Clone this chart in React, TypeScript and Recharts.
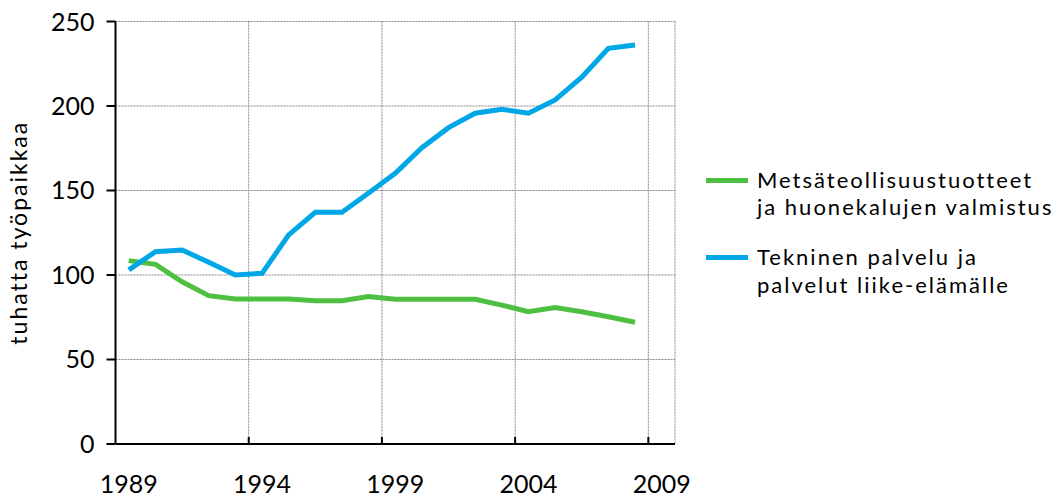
import {
  LineChart,
  Line,
  XAxis,
  YAxis,
  CartesianGrid,
  Legend,
} from "recharts";

const years = [
  1989, 1990, 1991, 1992, 1993, 1994, 1995, 1996, 1997, 1998, 1999, 2000,
  2001, 2002, 2003, 2004, 2005, 2006, 2007, 2008,
];

// thousand jobs
const metsa = [
  108.5, 106.3, 96, 87.8, 85.8, 85.8, 85.8, 84.8, 84.8, 87.2, 85.6, 85.6, 85.6,
  85.6, 82.2, 78.3, 80.7, 78.3, 75.3, 72,
];
const tekninen = [
  103, 113.8, 114.8, 107.5, 100, 101, 123.7, 137.1, 137.1, 148.5, 160.2, 175.3,
  187.2, 195.7, 198, 195.7, 203.6, 217, 234.1, 236.1,
];

const yTicks = [0, 50, 100, 150, 200, 250];
const yearLabels = [1989, 1994, 1999, 2004, 2009];
const yearBounds = [1993.5, 1998.5, 2003.5, 2008.5];

const seriesNames = [
  ["Metsäteollisuustuotteet", "ja huonekalujen valmistus"],
  ["Tekninen palvelu ja", "palvelut liike-elämälle"],
];

const GREEN = "#4fbf42";
const BLUE = "#00a7e6";
const FONT = "Lato, 'Noto Sans', sans-serif";

const data = years.map((year, i) => ({
  year,
  metsa: metsa[i],
  tekninen: tekninen[i],
}));

const renderLegend = () => {
  const colors = [GREEN, BLUE];
  return (
    <div
      style={{
        paddingLeft: 31,
        fontFamily: FONT,
        fontSize: 22,
        letterSpacing: 2,
        color: "#000",
      }}
    >
      {seriesNames.map((lines, i) => (
        <div
          key={i}
          style={{ display: "flex", marginBottom: i === 0 ? 23 : 0 }}
        >
          <div
            style={{
              width: 42,
              height: 5,
              marginTop: 12,
              marginRight: 9,
              background: colors[i],
              flexShrink: 0,
            }}
          />
          <div style={{ lineHeight: "27.3px", whiteSpace: "nowrap" }}>
            {lines.map((t) => (
              <div key={t}>{t}</div>
            ))}
          </div>
        </div>
      ))}
    </div>
  );
};

export default function App() {
  return (
    <div style={{ width: 1053, height: 491 }}>
      <LineChart
        width={1053}
        height={491}
        data={data}
        margin={{ top: 13.5, right: 0, left: 0, bottom: 0 }}
        style={{ fontFamily: FONT }}
      >
        <CartesianGrid
          xAxisId="grid"
          stroke="#888"
          strokeDasharray="2 1"
          vertical
          horizontal
        />
        <XAxis
          xAxisId="grid"
          dataKey="year"
          type="number"
          domain={[1988.5, 2009.5]}
          ticks={yearBounds}
          tickFormatter={() => ""}
          tickSize={-7}
          height={8}
          axisLine={{ stroke: "#000", strokeWidth: 2 }}
          tickLine={{ stroke: "#000", strokeWidth: 2 }}
        />
        <XAxis
          xAxisId="labels"
          dataKey="year"
          type="number"
          domain={[1988.5, 2009.5]}
          ticks={yearLabels}
          axisLine={false}
          tickLine={false}
          tickSize={0}
          tickMargin={23}
          height={47}
          tick={{ fill: "#000", fontSize: 25 }}
          interval={0}
        />
        <YAxis
          domain={[0, 250]}
          ticks={yTicks}
          width={107.5}
          tickSize={9}
          tickMargin={12}
          axisLine={{ stroke: "#000", strokeWidth: 2 }}
          tickLine={{ stroke: "#000", strokeWidth: 2 }}
          tick={{ fill: "#000", fontSize: 25 }}
          label={{
            value: "tuhatta työpaikkaa",
            angle: -90,
            position: "insideLeft",
            offset: 11,
            dx: 0,
            style: {
              textAnchor: "middle",
              fill: "#000",
              fontSize: 23,
              letterSpacing: 2,
            },
          }}
        />
        <Legend
          layout="vertical"
          align="right"
          verticalAlign="middle"
          content={renderLegend}
          wrapperStyle={{ top: 157.7, right: 0, width: 386 }}
        />
        <Line
          xAxisId="grid"
          dataKey="metsa"
          stroke={GREEN}
          strokeWidth={5}
          dot={false}
          isAnimationActive={false}
        />
        <Line
          xAxisId="grid"
          dataKey="tekninen"
          stroke={BLUE}
          strokeWidth={5}
          dot={false}
          isAnimationActive={false}
        />
      </LineChart>
    </div>
  );
}
